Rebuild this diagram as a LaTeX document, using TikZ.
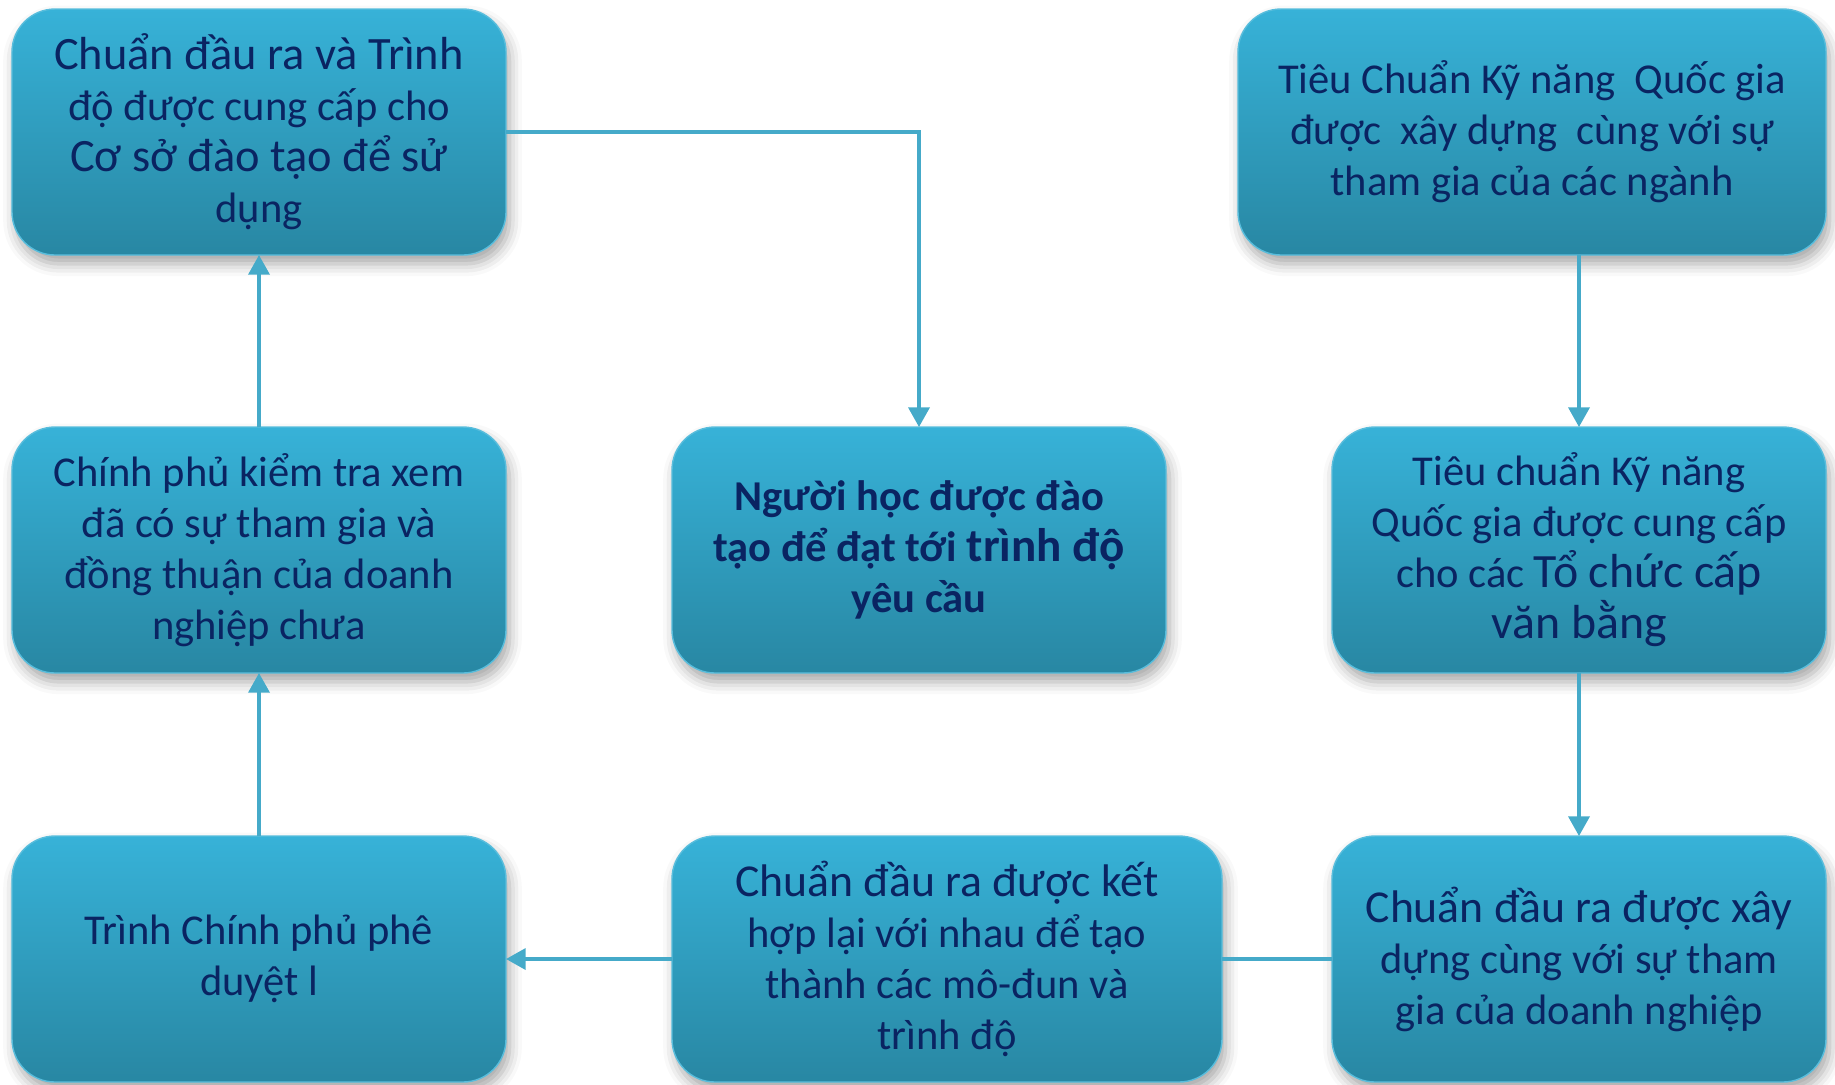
\documentclass[tikz,border=0pt]{standalone}
\usepackage{fontspec}
\setmainfont{Carlito}
\usetikzlibrary{arrows.meta,positioning,shadows.blur}

\definecolor{boxtop}{HTML}{37B2D8}
\definecolor{boxbottom}{HTML}{2887A3}
\definecolor{boxline}{HTML}{58BDDC}
\definecolor{boxtext}{HTML}{0A2462}
\definecolor{flowline}{HTML}{45AAC9}

\newcommand{\sz}[2]{{\fontsize{#1}{14.5}\selectfont #2}}

\begin{document}
\begin{tikzpicture}[>={Triangle[length=5.6pt,width=6pt]}, node distance=1.66cm,
    stage/.style={rectangle, rounded corners=0.43cm, draw=boxline, line width=0.4pt,
        top color=boxtop, bottom color=boxbottom, text=boxtext, align=center,
        minimum width=4.94cm, minimum height=2.46cm, inner sep=0pt, outer sep=0pt,
        font=\fontsize{12.1}{14.5}\selectfont,
        blur shadow={shadow xshift=1pt, shadow yshift=-2.5pt, shadow blur radius=3.5pt, shadow opacity=35}},
    flow/.style={draw, color=flowline, line width=0.95pt}]
    \useasboundingbox (0,0) rectangle (18.35,-10.84);

    % Nodes {A, B, C, D, E, F, G, H}
    \node [stage, anchor=north west] (A) at (0.12,-0.09) {\sz{13.2}{Chuẩn đầu ra và Trình}\\độ được cung cấp cho\\\sz{13.2}{Cơ sở đào tạo để sử}\\dụng};
    \node [stage]            (C)  [below=1.72cm of A]  {Chính phủ kiểm tra xem\\đã có sự tham gia và\\đồng thuận của doanh\\nghiệp chưa};
    \node [stage]            (F)  [below=1.63cm of C]  {Trình Chính phủ phê\\duyệt l};
    \node [stage, font=\fontsize{12.1}{14.5}\selectfont\bfseries]
                             (D)  [right=of C]  {Người học được đào\\tạo để đạt tới \sz{13.4}{trình độ}\\yêu cầu};
    \node [stage]            (E)  [right=of D]  {Tiêu chuẩn Kỹ năng\\Quốc gia được cung cấp\\cho các \sz{13.6}{Tổ chức cấp}\\\sz{13.6}{văn bằng}};
    \node [stage]            (H)  [below=1.63cm of E]  {\sz{13}{Chuẩn đầu ra được xây}\\dựng cùng với sự tham\\gia của doanh nghiệp};
    \node [stage, minimum width=5.50cm]
                             (G)  [right=of F]  {\sz{13}{Chuẩn đầu ra được kết}\\hợp lại với nhau để tạo\\thành các mô-đun và\\trình độ};
    \node [stage, minimum width=5.88cm, anchor=south east]
                             (B) at ([yshift=1.72cm]E.north east) {Tiêu Chuẩn Kỹ năng~ Quốc gia\\được~ xây dựng~ cùng với sự\\tham gia của các ngành};

    % Paths
    \path [flow, ->] (A) -| (D);
    \path [flow, ->] (B.south -| E) -- (E);
    \path [flow, ->] (E) edge (H);
    \path [flow]     (H) edge (G);
    \path [flow, ->] (G) edge (F);
    \path [flow, ->] (F) edge (C);
    \path [flow, ->] (C) edge (A);

\end{tikzpicture}
\end{document}
